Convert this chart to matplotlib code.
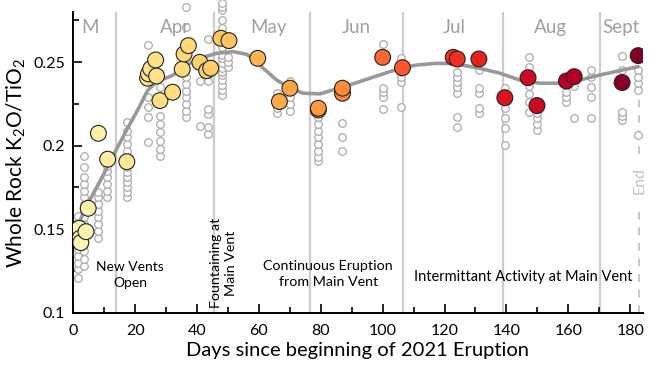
import matplotlib
matplotlib.use("Agg")
import matplotlib.pyplot as plt
from matplotlib.ticker import MultipleLocator, FixedLocator, FixedFormatter
import numpy as np

plt.rcParams['font.family'] = ['Lato', 'DejaVu Sans']
plt.rcParams['mathtext.fontset'] = 'custom'
plt.rcParams['mathtext.rm'] = 'Lato'
plt.rcParams['mathtext.it'] = 'Lato:italic'

# individual whole rock samples (grey open circles), grouped by sampling day
sample_days = [1.5, 3.5, 8, 11, 17.3, 24, 28, 36.5, 41, 43.5, 48, 50,
               65.7, 70, 79.2, 87, 100, 106, 123.9, 131.1, 139.5, 147.3,
               149.9, 159.4, 161.9, 167.2, 177.4, 182.6]
sample_ratios = [
    [0.121, 0.126, 0.130, 0.134, 0.138, 0.142, 0.146, 0.150, 0.154, 0.158],
    [0.128, 0.132, 0.137, 0.141, 0.145, 0.149, 0.153, 0.157, 0.161, 0.165,
     0.169, 0.173, 0.177, 0.181, 0.187, 0.194],
    [0.145, 0.149, 0.153, 0.157, 0.161, 0.165, 0.169, 0.172],
    [0.169, 0.173, 0.177, 0.181, 0.185, 0.188],
    [0.169, 0.172, 0.175, 0.178, 0.181, 0.184, 0.187, 0.190, 0.193, 0.197,
     0.201, 0.205, 0.209, 0.214],
    [0.202, 0.217, 0.223, 0.229, 0.260],
    [0.194, 0.198, 0.203, 0.208, 0.213, 0.218, 0.235],
    [0.217, 0.221, 0.225, 0.229, 0.233, 0.237, 0.241, 0.271, 0.283],
    [0.212, 0.239],
    [0.207, 0.211, 0.219, 0.222, 0.239, 0.264],
    [0.2304, 0.2334, 0.2363, 0.2393, 0.2423, 0.2441, 0.2465, 0.2495, 0.2525,
     0.2543, 0.2591, 0.2651, 0.2705, 0.2753, 0.2813, 0.2832, 0.2853],
    [0.247, 0.250, 0.253],
    [0.2196, 0.2226, 0.2256, 0.2286, 0.2316],
    [0.221, 0.225, 0.229, 0.233, 0.239],
    [0.191, 0.193, 0.197, 0.201, 0.205, 0.209, 0.213, 0.217, 0.2196],
    [0.197, 0.205, 0.2136],
    [0.222, 0.229, 0.232, 0.2345, 0.2607],
    [0.2232, 0.238, 0.241, 0.244, 0.2525],
    [0.2112, 0.2172, 0.2316, 0.235, 0.238, 0.241, 0.244],
    [0.2196, 0.2226, 0.2316, 0.2346, 0.2453],
    [0.2004, 0.2106, 0.2166, 0.2226, 0.2346],
    [0.220, 0.226, 0.231, 0.236, 0.247, 0.253],
    [0.2094, 0.213, 0.2165, 0.2196],
    [0.226, 0.229, 0.232],
    [0.2166, 0.236],
    [0.2166, 0.2292, 0.235, 0.241, 0.2453],
    [0.2153, 0.218, 0.220, 0.2453, 0.2537],
    [0.2064, 0.2334, 0.2373, 0.241, 0.2453],
]

# daily averages (coloured by time)
mean_days = [1.9, 2.2, 2.4, 4.1, 4.8, 8.1, 11.1, 17.3, 24.0, 24.3, 25.0, 26.6,
             26.9, 28.0, 32.1, 35.2, 35.8, 37.2, 40.9, 43.1, 44.4, 47.7, 50.3,
             59.6, 66.6, 70.0, 79.2, 79.2, 87.0, 87.0, 100.0, 106.4, 122.8,
             124.1, 131.1, 139.5, 147.0, 149.9, 159.4, 161.9, 177.4, 182.6]
mean_ratios = [0.1505, 0.1446, 0.1419, 0.1485, 0.1625, 0.2074, 0.1919, 0.1904,
               0.2404, 0.243, 0.246, 0.2513, 0.2417, 0.227, 0.232, 0.2458,
               0.2549, 0.2599, 0.2499, 0.2449, 0.2464, 0.2643, 0.2629, 0.2523,
               0.2264, 0.2344, 0.2214, 0.2224, 0.2314, 0.2344, 0.2529, 0.2467,
               0.2529, 0.2519, 0.2519, 0.2287, 0.2407, 0.2240, 0.2387, 0.2413,
               0.2378, 0.2539]

# smoothed trend
trend_days = [1.5, 4, 9, 14, 18, 21, 24, 27, 30, 32.3, 36.6, 40.9, 46.3, 51.7,
              56, 59, 61, 65.7, 70, 74.3, 79.7, 84, 89.4, 95.9, 102.3, 106.6,
              111, 117.4, 122, 125, 131.4, 137.9, 144.3, 150.8, 157.3, 163.7,
              170.2, 176.6, 182.6]
trend_ratios = [0.152, 0.163, 0.180, 0.198, 0.212, 0.222, 0.233, 0.2385, 0.2405,
                0.2423, 0.2483, 0.2523, 0.2553, 0.2563, 0.2547, 0.251, 0.247,
                0.2393, 0.2345, 0.2314, 0.2310, 0.2334, 0.2364, 0.2404, 0.2443,
                0.2467, 0.2483, 0.2493, 0.2492, 0.2485, 0.2463, 0.2434, 0.2393,
                0.2374, 0.2374, 0.2393, 0.2423, 0.2449, 0.2473]

phase_lines = [13.7, 45.4, 76.5, 106.7, 139.0, 170.3]
end_day = 183.0

months = ['M', 'Apr', 'May', 'Jun', 'Jul', 'Aug', 'Sept']
month_pos = [5.4, 33.0, 63.0, 91.6, 123.0, 154.3, 177.0]

fig = plt.figure(figsize=(6.49, 3.70), dpi=100)
ax = fig.add_axes([0.113, 0.155, 0.877, 0.8124])

for d in phase_lines:
    ax.axvline(d, color='#cccccc', lw=1.6, zorder=1)
ax.plot([end_day, end_day], [0.1, 0.161], color='#c8c8c8', lw=1.4,
        ls=(0, (4, 4)), zorder=1, clip_on=False)
ax.plot([end_day, end_day], [0.195, 0.235], color='#c8c8c8', lw=1.4,
        ls=(0, (4, 4)), zorder=1, clip_on=False)

sx = []
sy = []
for d, vals in zip(sample_days, sample_ratios):
    sx += [d] * len(vals)
    sy += vals
ax.scatter(sx, sy, s=30, facecolors='white', edgecolors='#aaaaaa',
           linewidths=0.9, zorder=2, clip_on=False)

ax.plot(trend_days, trend_ratios, color='#999999', lw=2.6, zorder=3,
        solid_capstyle='round')

ax.scatter(mean_days, mean_ratios, c=mean_days, cmap='YlOrRd', vmin=-12,
           vmax=183, s=130, edgecolors='#222222', linewidths=0.8, zorder=4)

for m, p in zip(months, month_pos):
    ax.text(p, 0.2705, m, color='#a0a0a0', fontsize=13.5, ha='center',
            va='center')

ax.text(18.4, 0.1226, 'New Vents\nOpen', fontsize=10, ha='center',
        va='center', linespacing=1.45)
ax.text(48.7, 0.1028, 'Fountaining at\nMain Vent', fontsize=10.3,
        ha='center', va='bottom', rotation=90, linespacing=1.3)
ax.text(82.4, 0.123, 'Continuous Eruption\nfrom Main Vent', fontsize=10.3,
        ha='center', va='center', linespacing=1.35)
ax.text(145.3, 0.1216, 'Intermittant Activity at Main Vent', fontsize=10.5,
        ha='center', va='center')
ax.text(end_day, 0.1792, 'End', fontsize=11.5, color='#c0c0c0', rotation=90,
        ha='center', va='center', clip_on=False)

ax.set_xlim(0, 184)
ax.set_ylim(0.1, 0.28)
ax.xaxis.set_major_locator(MultipleLocator(20))
ax.xaxis.set_minor_locator(MultipleLocator(10))
ax.yaxis.set_major_locator(FixedLocator([0.1, 0.15, 0.2, 0.25]))
ax.yaxis.set_major_formatter(FixedFormatter(['0.1', '0.15', '0.2', '0.25']))
ax.yaxis.set_minor_locator(FixedLocator([0.125, 0.175, 0.225, 0.275]))
ax.tick_params(which='major', direction='in', length=6.5, width=1.2,
               labelsize=11.5)
ax.tick_params(axis='x', which='major', pad=8)
ax.tick_params(axis='y', which='major', pad=6)
ax.tick_params(which='minor', direction='in', length=4, width=1.2)
for s in ['top', 'right']:
    ax.spines[s].set_visible(False)
for s in ['left', 'bottom']:
    ax.spines[s].set_linewidth(1.4)

ax.set_xlabel('Days since beginning of 2021 Eruption', fontsize=14.5,
              labelpad=3)
ax.set_ylabel('Whole Rock K$_2$O/TiO$_2$', fontsize=15, labelpad=4)

fig.savefig('out.png', dpi=100)
